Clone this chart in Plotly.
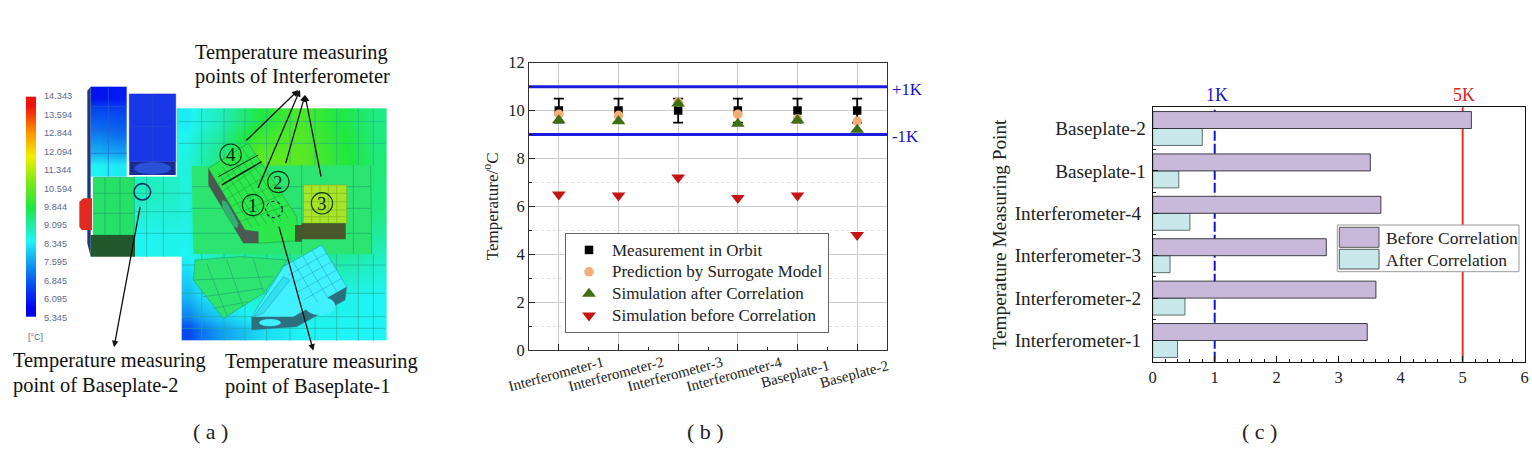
import plotly.graph_objects as go

FONT = "Liberation Serif"
W, H = 1532, 476

# ---------- data: panel (b) ----------
points_b = ["Interferometer-1", "Interferometer-2", "Interferometer-3",
            "Interferometer-4", "Baseplate-1", "Baseplate-2"]
index_b = [1, 2, 3, 4, 5, 6]
measured = [10, 10, 10, 10, 10, 10]
measured_err = [0.5, 0.5, 0.5, 0.5, 0.5, 0.5]
surrogate = [9.85, 9.8, 10.35, 9.85, 9.65, 9.55]
sim_after = [9.6, 9.55, 10.3, 9.45, 9.6, 9.2]
sim_before = [6.5, 6.45, 7.2, 6.35, 6.45, 4.8]
band_x = [0.5, 6.5]
band_upper = [11, 11]
band_lower = [9, 9]

# ---------- data: panel (c) ----------
points_c = ["Interferometer-1\u00a0", "Interferometer-2\u00a0", "Interferometer-3\u00a0",
            "Interferometer-4\u00a0", "Baseplate-1", "Baseplate-2"]
index_c = [1, 2, 3, 4, 5, 6]
err_before = [3.46, 3.6, 2.8, 3.68, 3.51, 5.14]
err_after = [0.4, 0.52, 0.28, 0.6, 0.42, 0.8]
limit_1k, limit_5k = 1, 5

# ---------- data: panel (a) temperature picture ----------
cbar_labels = ["14.343", "13.594", "12.844", "12.094", "11.344", "10.594", "9.844",
               "9.095", "8.345", "7.595", "6.845", "6.095", "5.345"]
cbar_vals = [float(v) for v in cbar_labels]
plate_x = [530, 600, 715, 840, 960, 1085, 1160]
plate_y = [235, 320, 475, 615, 740, 866, 932]
plate_t = [[8.2, 8.8, 9.8, 10.4, 9.8, 9.3],
           [8.5, 9.3, 10.7, 10.6, 10.0, 9.4],
           [8.5, 9.4, 10.0, 10.0, 9.8, 9.3],
           [8.3, 8.9, 9.2, 9.2, 9.1, 8.8],
           [7.6, 8.3, 8.7, 8.5, 8.4, 8.3],
           [6.3, 7.3, 8.0, 8.3, 8.3, 8.3]]
strip_x = [400, 470, 540]
strip_y = [440, 560, 680]
strip_t = [[8.8, 8.7], [8.3, 8.4]]
tower_x = [272, 326, 380]
tower_y = [170, 235, 370, 440]
tower_t = [[5.6, 5.7], [6.9, 6.7], [8.3, 8.2]]

rainbow = [[0, "#0000f0"], [0.16, "#0a6cf0"], [0.33, "#20f4f4"], [0.42, "#20ea98"], [0.5, "#20e840"],
           [0.62, "#78e818"], [0.75, "#f0f000"], [0.87, "#ff9000"], [1, "#f01010"]]

fig = go.Figure()

# ---------- panel (a) heatmaps ----------
def hm(x, y, z):
    fig.add_trace(go.Heatmap(x=x, y=y, z=z, zsmooth="best", colorscale=rainbow, zmin=5.345, zmax=14.343,
                             showscale=False, xaxis="x3", yaxis="y3", hoverinfo="skip"))

hm(plate_x, plate_y, plate_t)
hm(strip_x, strip_y, strip_t)
hm(tower_x, tower_y, tower_t)
n = len(cbar_vals)
step = (860 - 200) / n
fig.add_trace(go.Heatmap(x=[78, 93, 108], y=[200 + i * step for i in range(n + 1)],
                         z=[[v, v] for v in cbar_vals], zsmooth="best", colorscale=rainbow,
                         zmin=5.345, zmax=14.343, showscale=False, xaxis="x3", yaxis="y3", hoverinfo="skip"))

shapes = []

def poly(pts, fill, line="rgba(0,0,0,0)", w=0.6):
    d = "M" + "L".join(f"{x},{y}" for x, y in pts) + "Z"
    shapes.append(dict(type="path", path=d, xref="x3", yref="y3", fillcolor=fill,
                       line=dict(color=line, width=w), layer="above"))

def seg(x0, y0, x1, y1, color="#1c9a80", w=0.6):
    shapes.append(dict(type="line", x0=x0, y0=y0, x1=x1, y1=y1, xref="x3", yref="y3",
                       line=dict(color=color, width=w), layer="above"))

def oval(x0, y0, x1, y1, fill="rgba(0,0,0,0)", line="#111", w=1.2, dash="solid"):
    shapes.append(dict(type="circle", x0=x0, y0=y0, x1=x1, y1=y1, xref="x3", yref="y3", fillcolor=fill,
                       line=dict(color=line, width=w, dash=dash), layer="above"))

def grid4(A, B, C, D, fracs_u, fracs_v, color, w=0.5):
    for u in fracs_u:
        seg(A[0] + (B[0] - A[0]) * u, A[1] + (B[1] - A[1]) * u, D[0] + (C[0] - D[0]) * u, D[1] + (C[1] - D[1]) * u, color, w)
    for v in fracs_v:
        seg(A[0] + (D[0] - A[0]) * v, A[1] + (D[1] - A[1]) * v, B[0] + (C[0] - B[0]) * v, B[1] + (C[1] - B[1]) * v, color, w)

FR = [0.14, 0.28, 0.42, 0.56, 0.7, 0.84]
MESH = "#22a896"

# plate mesh
for x in [605, 672, 735, 800, 870, 945, 1010, 1075, 1120]:
    seg(x, 235, x, 405, MESH)
    seg(x, 672, x, 932, MESH)
for y in [275, 340, 705, 790, 860, 895]:
    seg(535, y, 1155, y, MESH)
for x in [440, 490]:
    seg(x, 440, x, 680, MESH)
for y in [490, 545, 610]:
    seg(405, y, 575, y, MESH)
poly([(528, 680), (545, 680), (545, 935), (528, 935)], "#ffffff")
# tower
poly([(262, 182), (272, 170), (272, 680), (262, 640)], "#1a3a80")
seg(325, 170, 325, 440, "#2a60d0")
for y in [230, 300, 370]:
    seg(272, y, 380, y, "#2a60d0")
# second blue block
poly([(388, 192), (527, 192), (527, 395), (388, 395)], "#1838e8", "#1830c0")
poly([(388, 395), (527, 395), (527, 435), (388, 435)], "#18288c")
for y in [405, 418, 428]:
    seg(388, y, 527, y, "#2840b0")
oval(403, 397, 512, 433, "#2a50d8", "#2a50d8", 0.5)
seg(458, 192, 458, 395, "#2a4ac0")
seg(388, 290, 527, 290, "#2a4ac0")
# red cylinder
poly([(238, 515), (250, 505), (276, 505), (276, 600), (245, 600), (238, 590)], "#e02a20")
# left green block
poly([(280, 442), (403, 442), (403, 615), (280, 615)], "#26e068", "#21a870")
for x in [315, 360]:
    seg(x, 442, x, 615, "#1f9f60")
for y in [490, 550]:
    seg(280, y, 403, y, "#1f9f60")
poly([(272, 615), (405, 615), (405, 680), (272, 680)], "#23582c")
# inner green plate
poly([(575, 408), (1112, 405), (1115, 672), (580, 672)], "#2ce470")
for x in [1060, 905]:
    seg(x, 405, x, 672, "#1f9f70")
seg(1112, 405, 1115, 672, "#1f9f70")
for y in [470, 535, 610]:
    seg(575, y, 1112, y, "#1f9f70")
# lower curved patch
poly([(585, 690), (720, 680), (860, 690), (840, 725), (790, 790), (670, 865), (580, 750)], "#2ee470", "#1f9f70")
for p in [[(620, 700), (680, 855)], [(680, 690), (730, 830)], [(760, 688), (790, 785)], [(580, 750), (820, 740)], [(610, 800), (790, 775)], [(640, 835), (745, 815)]]:
    seg(p[0][0], p[0][1], p[1][0], p[1][1], "#1f9f70")
# interferometer block with point 4
poly([(625, 415), (745, 340), (890, 560), (895, 632), (775, 640), (775, 605), (735, 600), (640, 440)], "#2ce84c", "#1c9a50")
poly([(625, 415), (640, 440), (735, 600), (775, 605), (775, 640), (730, 640), (625, 465)], "#4a5a50")
poly([(665, 510), (680, 515), (715, 580), (712, 595), (700, 590), (668, 535)], "#2fb070")
poly([(885, 585), (910, 585), (905, 635), (885, 635)], "#3f5a2c")
grid4((640, 440), (745, 340), (890, 560), (735, 600), FR, FR, "#189a40")
seg(665, 465, 785, 395, "#0a2a10", 1.6)
seg(655, 440, 775, 375, "#0a2a10", 1.0)
# yellow box
poly([(910, 465), (1040, 465), (1040, 580), (910, 580)], "#a8e428", "#7ab024")
for x in [935, 960, 985, 1010]:
    seg(x, 465, x, 580, "#7ab024")
for y in [490, 515, 540, 560]:
    seg(910, y, 1040, y, "#7ab024")
poly([(905, 580), (1037, 580), (1037, 628), (905, 628)], "#48562a")
# cyan bracket
poly([(850, 710), (965, 645), (1040, 770), (1035, 810), (890, 890), (755, 900), (755, 860)], "#40f0ff", "#18a0b0")
poly([(755, 860), (880, 860), (1040, 770), (1035, 810), (890, 890), (755, 900)], "#2c7080")
poly([(850, 740), (870, 750), (790, 850), (760, 860)], "#30e0ec", "#20a0b0")
oval(778, 868, 842, 888, "#40f0ff", "#40f0ff", 0.5)
oval(915, 800, 1005, 855, "#40f0ff", "#40f0ff", 0.5)
grid4((850, 710), (965, 645), (1040, 770), (925, 835), [0.25, 0.5, 0.75], [0.2, 0.4, 0.6, 0.8], "#20a0b0")
# measuring point marks
oval(402, 461, 452, 510, line="#0a3a60", w=1.6)
oval(797, 514, 847, 563, line="#124", w=1.2, dash="dot")
marks = [("④", 692, 374), ("②", 835, 456), ("①", 759, 525), ("③", 966, 520)]
for _, cx, cy in marks:
    oval(cx - 32, cy - 32, cx + 32, cy + 32, line="#0a3a10", w=1.1)

# ---------- panel (b) ----------
def legname(s, size):
    return f'<span style="font-size:{size}px">{s}</span>'

for band in (band_upper, band_lower):
    fig.add_trace(go.Scatter(x=band_x, y=band, mode="lines", showlegend=False, hoverinfo="skip",
                             line=dict(color="#1c1ce0", width=3)))
fig.add_trace(go.Scatter(x=index_b, y=measured, mode="markers", name=legname("Measurement in Orbit", 17),
                         marker=dict(symbol="square", size=8.5, color="#000000"),
                         error_y=dict(type="data", array=measured_err, thickness=1.8, width=5, color="#000000"),
                         legend="legend"))
fig.add_trace(go.Scatter(x=index_b, y=surrogate, mode="markers", name=legname("Prediction by Surrogate Model", 17),
                         marker=dict(symbol="circle", size=9.5, color="#f2ad78"), legend="legend"))
fig.add_trace(go.Scatter(x=index_b, y=sim_after, mode="markers", name=legname("Simulation after Correlation", 17),
                         marker=dict(symbol="triangle-up", size=12, color="#3f6f10"), legend="legend"))
fig.add_trace(go.Scatter(x=index_b, y=sim_before, mode="markers", name=legname("Simulation before Correlation", 17),
                         marker=dict(symbol="triangle-down", size=12, color="#c41414"), legend="legend"))

# ---------- panel (c) ----------
fig.add_trace(go.Bar(y=index_c, x=err_after, orientation="h", name="After Correlation", showlegend=False,
                     marker=dict(color="#c8e8ec", line=dict(color="#50605f", width=0.9)),
                     xaxis="x2", yaxis="y2"))
fig.add_trace(go.Bar(y=index_c, x=err_before, orientation="h", name="Before Correlation", showlegend=False,
                     marker=dict(color="#c8b8da", line=dict(color="#2c2c34", width=0.9)),
                     xaxis="x2", yaxis="y2"))
shapes.append(dict(type="line", xref="x2", yref="y2 domain", x0=limit_1k, x1=limit_1k, y0=0, y1=0.99,
                   line=dict(color="#1414d0", width=2, dash="10px,3px"), layer="below"))
shapes.append(dict(type="line", xref="x2", yref="y2 domain", x0=limit_5k, x1=limit_5k, y0=0, y1=1,
                   line=dict(color="#ee3030", width=2), layer="below"))

def pbox(x0, y0, x1, y1, fill, line, w=1):
    shapes.append(dict(type="rect", xref="paper", yref="paper", x0=x0 / W, x1=x1 / W, y0=1 - y0 / H, y1=1 - y1 / H,
                       fillcolor=fill, line=dict(color=line, width=w), layer="above"))

# legend of panel (c)
pbox(1337.3, 225, 1519, 271.7, "white", "#999999")
pbox(1339.3, 227.3, 1379, 247.3, "#c8b8da", "#555555")
pbox(1339.3, 249.3, 1379, 269, "#c8e8ec", "#555555")

# ---------- annotations ----------
ann = []
def a_text(x, y, text, size=20.4, anchor="left", color="#111111", family=FONT):
    ann.append(dict(x=x, y=y, xref="x3", yref="y3", text=text, showarrow=False, xanchor=anchor, yanchor="middle",
                    font=dict(family=family, size=size, color=color)))

a_text(580, 66, "Temperature measuring")
a_text(580, 138, "points of Interferometer")
a_text(33, 992, "Temperature measuring")
a_text(33, 1066, "point of Baseplate-2")
a_text(668, 995, "Temperature measuring")
a_text(668, 1068, "point of Baseplate-1")
for i, lab in enumerate(cbar_labels):
    a_text(125, 199 + i * 55.3, lab, size=9.2, color="#5a6a90", family="Liberation Sans")
a_text(78, 920, "[°C]", size=9, color="#5a6a90", family="Liberation Sans")
digits = {"④": "4", "②": "2", "①": "1", "③": "3"}
for m, cx, cy in marks:
    a_text(cx, cy, digits[m], size=19, anchor="center", color="#0a2a10")

arrows = [(730, 340, 895, 180), (765, 495, 900, 180), (850, 425, 915, 195), (968, 465, 915, 195),
          (425, 505, 342, 952), (830, 565, 940, 962)]
for x0, y0, x1, y1 in arrows:
    ann.append(dict(x=x1, y=y1, ax=x0, ay=y0, xref="x3", yref="y3", axref="x3", ayref="y3", text=" ",
                    showarrow=True, arrowhead=2, arrowsize=1, arrowwidth=1.3, arrowcolor="#111111"))

for x, lab in zip(index_b, points_b):
    ann.append(dict(x=x, y=0, xref="x", yref="y", yshift=-24, xshift=-3, text=lab, textangle=-15, showarrow=False,
                    xanchor="center", yanchor="middle", font=dict(family=FONT, size=14.9, color="#222222")))
ann.append(dict(x=1, y=band_upper[0], xref="x domain", yref="y", xshift=3, yshift=-3, text="+1K", showarrow=False,
                xanchor="left", yanchor="middle", font=dict(family=FONT, size=16.8, color="#1414c8")))
ann.append(dict(x=1, y=band_lower[0], xref="x domain", yref="y", xshift=3, yshift=-2, text="-1K", showarrow=False,
                xanchor="left", yanchor="middle", font=dict(family=FONT, size=16.8, color="#1414c8")))
ann.append(dict(x=limit_1k, y=1, xref="x2", yref="y2 domain", yshift=12, xshift=2, text="1K", showarrow=False,
                xanchor="center", yanchor="middle", font=dict(family=FONT, size=17.8, color="#1414c8")))
ann.append(dict(x=limit_5k, y=1, xref="x2", yref="y2 domain", yshift=12, xshift=1, text="5K", showarrow=False,
                xanchor="center", yanchor="middle", font=dict(family=FONT, size=17.8, color="#e02020")))
for label, px, py in [("( a )", 210, 431), ("( b )", 705, 431), ("( c )", 1259, 431)]:
    ann.append(dict(x=px / W, y=1 - py / H, xref="paper", yref="paper", text=label, showarrow=False,
                    xanchor="center", yanchor="middle", font=dict(family=FONT, size=22, color="#222222")))
for label, py in [("Before Correlation", 238.3), ("After Correlation", 260)]:
    ann.append(dict(x=1384 / W, y=1 - py / H, xref="paper", yref="paper", text=label, showarrow=False,
                    xanchor="left", yanchor="middle", font=dict(family=FONT, size=17.5, color="#222222")))

axis_font = dict(family=FONT, size=16.5, color="#222222")
layout = dict(
    template="none",
    width=W, height=H, margin=dict(l=0, r=0, t=0, b=0, pad=0), paper_bgcolor="white", plot_bgcolor="white",
    shapes=shapes, annotations=ann, barmode="group", bargap=0.2, bargroupgap=0,
    font=dict(family=FONT, color="#222222"),
    xaxis=dict(domain=[529 / W, 887 / W], range=[0.5, 6.5], tickvals=index_b, showticklabels=False, automargin=False,
               ticks="inside", ticklen=6, tickcolor="#222", linecolor="#333", linewidth=1, mirror=True,
               showgrid=True, gridcolor="#cccccc", gridwidth=1, zeroline=False,
               minor=dict(tick0=0.5, dtick=1, ticks="inside", ticklen=3, tickcolor="#222", showgrid=False)),
    yaxis=dict(domain=[1 - 350 / H, 1 - 62.7 / H], range=[0, 12], dtick=2, tickfont=axis_font, ticks="inside",
               automargin=False,
               ticklen=6, tickcolor="#222", linecolor="#333", linewidth=1, mirror=True, showgrid=True,
               gridcolor="#cccccc", gridwidth=1, zeroline=False,
               title=dict(text="Temperature/<sup>o</sup>C", font=dict(family=FONT, size=17, color="#222"), standoff=5),
               minor=dict(dtick=1, ticks="inside", ticklen=3, tickcolor="#222", showgrid=True,
                          griddash="dot", gridcolor="#e0e0e0", gridwidth=1)),
    xaxis2=dict(domain=[1152.7 / W, 1524.7 / W], anchor="y2", range=[0, 6], dtick=1, tickfont=axis_font,
                automargin=False,
                ticks="inside", ticklen=6, tickcolor="#111", linecolor="#111", linewidth=1, mirror=True,
                showgrid=False, zeroline=False,
                minor=dict(dtick=0.2, ticks="inside", ticklen=3, tickcolor="#111", showgrid=False)),
    yaxis2=dict(domain=[1 - 361.7 / H, 1 - 107.3 / H], anchor="x2", range=[0.5, 6.5], tickvals=index_c,
                automargin=False, ticklabelstandoff=2,
                ticktext=points_c, tickfont=dict(family=FONT, size=19.2, color="#222"), ticks="inside", ticklen=5,
                tickcolor="#111", linecolor="#111", linewidth=1, mirror=True, showgrid=False, zeroline=False,
                title=dict(text="Temperature Measuring Point", font=dict(family=FONT, size=19.3, color="#222"), standoff=2),
                minor=dict(tick0=0.5, dtick=1, ticks="inside", ticklen=3, tickcolor="#111", showgrid=False)),
    xaxis3=dict(domain=[0, 430 / W], range=[0, 1290], visible=False, anchor="y3", automargin=False),
    yaxis3=dict(domain=[1 - 450 / H, 1 - 30 / H], range=[1260, 0], visible=False, anchor="x3", automargin=False),
    legend=dict(x=565 / W, y=1 - 233 / H, xanchor="left", yanchor="top", bgcolor="white", bordercolor="#666",
                borderwidth=1, font=dict(family=FONT, size=14.5, color="#222"), tracegroupgap=0, itemwidth=36),
)
fig.update_layout(**layout)
fig.write_html("out.html", config=dict(displayModeBar=False), post_script="document.body.style.margin='0';")
